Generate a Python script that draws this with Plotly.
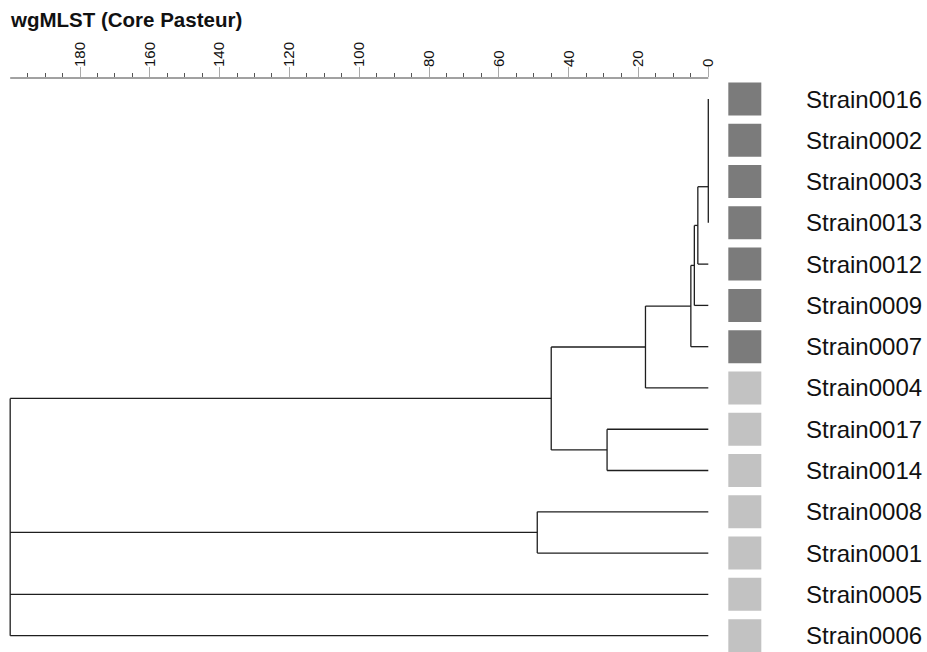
import plotly.graph_objects as go

# Leaves in dendrogram order (top to bottom) and their group
strains = ["Strain0016", "Strain0002", "Strain0003", "Strain0013", "Strain0012",
           "Strain0009", "Strain0007", "Strain0004", "Strain0017", "Strain0014",
           "Strain0008", "Strain0001", "Strain0005", "Strain0006"]
groups = ["A", "A", "A", "A", "A", "A", "A", "B", "B", "B", "B", "B", "B", "B"]
group_colors = {"A": "#7b7b7b", "B": "#c2c2c2"}

# Linkage: each merge joins two nodes (leaf index or earlier merge id) at an allelic distance
merge_left = [0, 14, 15, 16, 17, 18, 19, 8, 20, 10, 22, 24, 25]
merge_right = [1, 2, 3, 4, 5, 6, 7, 9, 21, 11, 23, 12, 13]
merge_height = [0, 0, 0, 3, 4, 5, 18, 29, 45, 49, 200, 200, 200]

# Axis ticks
major_ticks = list(range(0, 181, 20))
minor_ticks = [v for v in range(5, 200, 5) if v % 20 != 0]
axis_max = 200

FONT = "Arial, Liberation Sans, sans-serif"

n = len(strains)
node_x = [0.0] * n
node_y = [float(i) for i in range(n)]
node_kids = [[] for _ in range(n)]

# Node positions: height from the linkage, y at the midpoint of the two children
for a, b, h in zip(merge_left, merge_right, merge_height):
    node_x.append(float(h))
    node_y.append((node_y[a] + node_y[b]) / 2)
    node_kids.append([a, b])


def visible_children(node):
    """Children of a node, collapsing merges made at the same height (multifurcations)."""
    out = []
    for c in node_kids[node]:
        if c >= n and node_x[c] == node_x[node]:
            out += visible_children(c)
        else:
            out.append(c)
    return out


def collapsed_merges(node):
    """Merges absorbed into this node because they share its height."""
    out = []
    for c in node_kids[node]:
        if c >= n and node_x[c] == node_x[node]:
            out.append(c)
            out += collapsed_merges(c)
    return out


xs, ys = [], []
absorbed = set()
for node in range(len(node_x) - 1, n - 1, -1):
    if node in absorbed:
        continue
    absorbed.update(collapsed_merges(node))
    kids = visible_children(node)
    h = node_x[node]
    ky = [node_y[c] for c in kids]
    xs += [h, h, None]
    ys += [min(ky), max(ky), None]
    for c in kids:
        if node_x[c] != h:
            xs += [node_x[c], h, None]
            ys += [node_y[c], node_y[c], None]

fig = go.Figure()

fig.add_trace(go.Scatter(
    x=xs, y=ys, mode="lines",
    line=dict(color="#1e1e1e", width=1.3),
    hoverinfo="skip", showlegend=False,
))

# Group colour boxes
fig.add_trace(go.Scatter(
    x=[-10.46] * n, y=list(range(n)), mode="markers",
    marker=dict(symbol="square", size=33,
                color=[group_colors[g] for g in groups],
                line=dict(width=0)),
    hoverinfo="skip", showlegend=False,
))

# Strain labels
for i, s in enumerate(strains):
    fig.add_annotation(
        x=-27.5, y=i, xref="x", yref="y", text=s, showarrow=False,
        xanchor="left", yanchor="middle",
        font=dict(family=FONT, size=24, color="#111111"),
    )

# Scale bar line spanning the distance range only
fig.add_shape(type="line", xref="x", yref="paper",
              x0=axis_max, x1=0, y0=1, y1=1,
              line=dict(color="#444444", width=1))

scale = 628.3 / 180.0
x_left = 708.3 / scale
x_right = (708.3 - 927) / scale
y_top = (78 - 99) / 41.28
y_bottom = (652 - 99) / 41.28

fig.update_layout(
    width=927, height=652,
    margin=dict(l=0, r=0, t=78, b=0),
    paper_bgcolor="white", plot_bgcolor="white",
    title=dict(text="<b>wgMLST (Core Pasteur)</b>",
               x=11 / 927, xanchor="left", xref="paper",
               y=1 - 20 / 652, yanchor="middle", yref="container",
               font=dict(family=FONT, size=20.5, color="#111111")),
    xaxis=dict(
        side="top", range=[x_left, x_right],
        showgrid=False, zeroline=False, showline=False,
        tickmode="array", tickvals=major_ticks,
        ticktext=[str(v) for v in major_ticks],
        ticks="outside", ticklen=10, tickcolor="#aaaaaa", tickwidth=1,
        tickangle=-90, ticklabelstandoff=-3,
        tickfont=dict(family=FONT, size=15, color="#111111"),
        minor=dict(tickmode="array", tickvals=minor_ticks,
                   ticks="outside", ticklen=4, tickcolor="#555555", tickwidth=1),
    ),
    yaxis=dict(
        range=[y_bottom, y_top],
        showgrid=False, zeroline=False, showline=False,
        showticklabels=False, ticks="",
    ),
)

fig.write_html("out.html")
